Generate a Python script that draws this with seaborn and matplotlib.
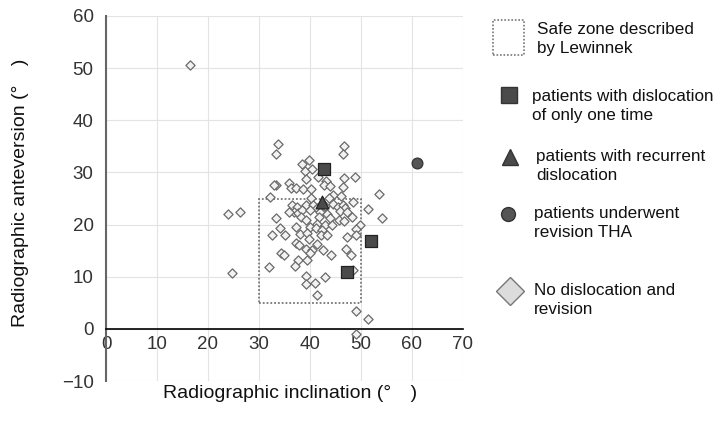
import matplotlib
matplotlib.use("Agg")
import matplotlib.pyplot as plt
import seaborn as sns
import pandas as pd
from matplotlib.lines import Line2D
from matplotlib.patches import Rectangle

# Diamonds: no dislocation and no revision
none_x = [33.8, 33.3, 46.7, 46.4, 38.5, 39.9, 38.95, 40.3,
          48.8, 46.7, 41.6, 43.1, 39.3,
          33.3, 33.0, 35.9, 36.3, 37.3, 38.6, 40.1, 42.7, 43.9, 46.5,
          53.6, 32.1, 40.1, 44.6, 46.1, 48.5, 43.7,
          51.3, 54.05, 26.2, 24.0,
          36.5, 37.4, 39.3, 40.65, 41.4, 42.9, 44.6, 45.4, 46.5, 46.9,
          36.9, 37.7, 35.8, 38.5, 40.0, 42.0, 43.3, 45.9, 47.2, 48.2,
          33.3, 38.2, 39.2, 41.8, 43.9, 40.0, 41.4, 42.9, 44.4, 45.6, 46.7,
          34.1, 37.3, 41.2, 42.35, 49.8, 49.0,
          32.5, 35.1, 38.0, 39.5, 42.1, 43.3, 49.1, 47.2,
          37.2, 37.9, 39.8, 41.3, 39.2, 40.3, 42.5, 40.0, 34.4, 34.9, 44.2, 47.1, 48.0,
          37.7, 39.5, 32.0, 37.0,
          48.4, 39.2, 42.9, 39.2, 40.9, 41.3, 49.1, 51.4, 49.0, 24.8, 16.5]
none_y = [35.4, 33.5, 35.1, 33.5, 31.7, 32.3, 30.3, 30.6,
          29.2, 28.9, 29.1, 28.4, 28.7,
          27.6, 27.5, 28.0, 27.1, 27.1, 26.8, 26.9, 27.6, 27.4, 27.3,
          25.8, 25.2, 25.0, 25.7, 25.5, 24.4, 25.0,
          22.9, 21.3, 22.4, 22.0,
          23.8, 23.4, 23.8, 23.8, 23.2, 23.6, 23.9, 23.4, 23.8, 23.1,
          22.5, 22.2, 22.5, 22.8, 22.8, 22.5, 22.0, 22.6, 22.5, 21.4,
          21.3, 21.5, 20.9, 21.4, 21.3, 19.6, 20.2, 19.9, 20.0, 20.9, 20.6,
          19.4, 19.6, 19.3, 19.0, 19.9, 19.1,
          18.0, 18.0, 18.1, 18.3, 18.0, 18.0, 18.0, 17.6,
          16.4, 16.1, 17.2, 16.3, 15.3, 15.1, 15.1, 14.5, 14.5, 14.1, 14.2, 15.3, 14.1,
          13.3, 13.3, 11.9, 12.1,
          11.2, 10.2, 9.9, 8.6, 8.7, 6.5, 3.4, 1.8, -1.0, 10.8, 50.6]

# Squares: dislocation only once
once_x = [42.7, 52.0, 47.3]
once_y = [30.7, 16.8, 11.0]

# Triangle: recurrent dislocation
recur_x = [42.4]
recur_y = [24.4]

# Circle: revision THA
rev_x = [61.0]
rev_y = [31.9]

# Lewinnek safe zone: inclination 30-50, anteversion 5-25
safe_incl = [30, 50]
safe_ante = [5, 25]

sns.set_style("white")
plt.rcParams['font.family'] = ['Liberation Sans', 'Noto Sans CJK JP', 'DejaVu Sans']
plt.rcParams['font.size'] = 12

fig = plt.figure(figsize=(7.21, 4.37), dpi=100)
ax = fig.add_axes([106 / 721, 1 - 381 / 437, 357 / 721, 365 / 437])

df_none = pd.DataFrame({'x': none_x, 'y': none_y})
sns.scatterplot(data=df_none, x='x', y='y', marker='D', s=22, color='#f2f2f2',
                edgecolor='#6a6a6a', linewidth=0.9, ax=ax, zorder=3)
sns.scatterplot(x=once_x, y=once_y, marker='s', s=75, color='#4a4a4a',
                edgecolor='#222222', linewidth=0.9, ax=ax, zorder=4)
sns.scatterplot(x=recur_x, y=recur_y, marker='^', s=85, color='#4a4a4a',
                edgecolor='#222222', linewidth=0.9, ax=ax, zorder=4)
sns.scatterplot(x=rev_x, y=rev_y, marker='o', s=60, color='#555555',
                edgecolor='#333333', linewidth=0.9, ax=ax, zorder=4)

ax.add_patch(Rectangle((safe_incl[0], safe_ante[0]), safe_incl[1] - safe_incl[0],
                       safe_ante[1] - safe_ante[0], fill=False, edgecolor='#777777',
                       linestyle=(0, (1, 1.1)), linewidth=1.3, zorder=2))

ax.set_xlim(0, 70)
ax.set_ylim(-10, 60)
ax.set_xticks(range(0, 71, 10))
ax.set_yticks(range(-10, 61, 10))
ax.set_yticklabels(['\u221210'] + [str(v) for v in range(0, 61, 10)])
ax.grid(True, color='#e3e3e3', linewidth=0.8)
ax.set_axisbelow(True)

for s in ['top', 'right']:
    ax.spines[s].set_visible(False)
ax.spines['bottom'].set_position(('data', 0))
ax.spines['bottom'].set_color('black')
ax.spines['bottom'].set_linewidth(1.2)
ax.spines['left'].set_color('#666666')
ax.spines['left'].set_linewidth(1.5)
ax.spines['left'].set_zorder(1)
ax.tick_params(axis='both', length=0, labelsize=13.5, colors='#333333')
ax.tick_params(axis='x', pad=5)
ax.tick_params(axis='y', pad=9)

lab_font = ['Liberation Sans', 'Noto Sans CJK JP']
ax.set_xlabel('Radiographic inclination (°\u3000)', fontsize=14, color='#111111', family=lab_font)
ax.set_ylabel('Radiographic anteversion (°\u3000)', fontsize=14, color='#111111', family=lab_font)
ax.xaxis.set_label_coords(0.515, -0.01)
ax.yaxis.set_label_coords(-0.217, 0.515)


# legend drawn by hand on the figure
def fx(px):
    return px / 721


def fy(py):
    return 1 - py / 437


fig.add_artist(Rectangle((fx(493), fy(55)), fx(524) - fx(493), fy(20) - fy(55),
                         fill=False, edgecolor='#777777', linestyle=(0, (1, 1.1)),
                         linewidth=1.2, transform=fig.transFigure))
legend_items = [
    ('s', 11, '#4a4a4a', 509, 95, 532, 106, 'patients with dislocation\nof only one time'),
    ('^', 12, '#4a4a4a', 510, 157, 536, 166, 'patients with recurrent\ndislocation'),
    ('o', 10, '#555555', 508, 214, 534, 223, 'patients underwent\nrevision THA'),
    ('D', 14, '#dcdcdc', 510, 291, 534, 300, 'No dislocation and\nrevision'),
]
fig.text(fx(537), fy(39), 'Safe zone described\nby Lewinnek', ha='left', va='center',
         fontsize=12.3, color='#111111', linespacing=1.3)
for mk, ms, col, mx, my, tx, ty, label in legend_items:
    fig.add_artist(Line2D([fx(mx)], [fy(my)], marker=mk, markersize=ms,
                          markerfacecolor=col, markeredgecolor='#333333' if mk != 'D' else '#777777',
                          markeredgewidth=1.0, linestyle='none', transform=fig.transFigure))
    fig.text(fx(tx), fy(ty), label, ha='left', va='center', fontsize=12.3,
             color='#111111', linespacing=1.3)

fig.savefig('out.png', dpi=100)
